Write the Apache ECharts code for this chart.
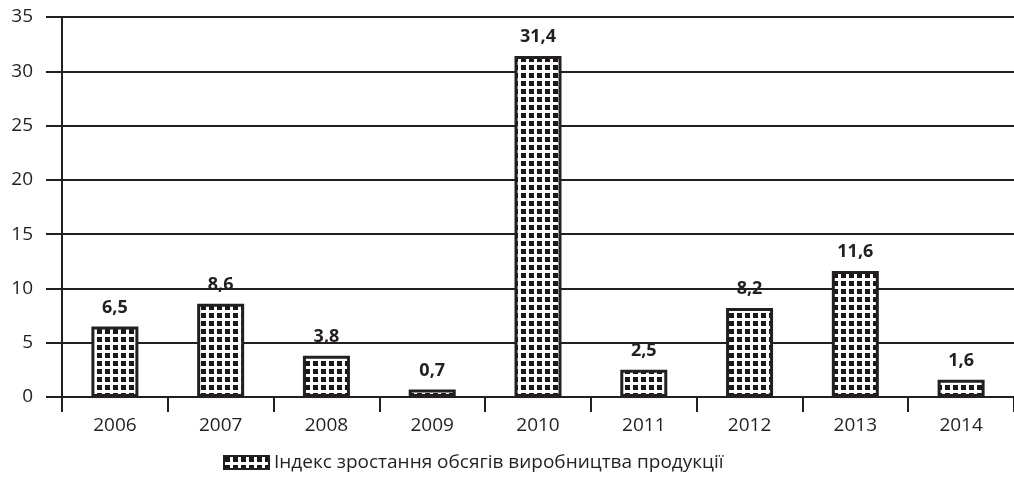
<!DOCTYPE html>
<html><head><meta charset="utf-8">
<script src="https://cdn.jsdelivr.net/npm/echarts@6/dist/echarts.min.js"></script>
<style>html,body{margin:0;padding:0;background:#fff}#c{width:1014px;height:478px}</style>
</head><body><div id="c"></div>
<script>
var years = ['2006','2007','2008','2009','2010','2011','2012','2013','2014'];
var values = [6.5, 8.6, 3.8, 0.7, 31.4, 2.5, 8.2, 11.6, 1.6];
var yTicks = [0, 5, 10, 15, 20, 25, 30, 35];
var seriesName = 'Індекс зростання обсягів виробництва продукції';

function makePattern() {
  var c = document.createElement('canvas');
  c.width = 8; c.height = 8;
  var g = c.getContext('2d');
  g.fillStyle = '#ffffff'; g.fillRect(0, 0, 8, 8);
  g.fillStyle = '#1a1718'; g.fillRect(1, 1, 5, 5);
  return c;
}
var pat = makePattern();
var ink = '#231f20';
var font = '"Open Sans", sans-serif';

var chart = echarts.init(document.getElementById('c'), null, {renderer: 'canvas'});
chart.setOption({
  animation: false,
  backgroundColor: '#fff',
  grid: {left: 62, right: 0, top: 17, bottom: 81, containLabel: false},
  legend: {
    show: true, left: 218, top: 448,
    icon: 'rect', itemWidth: 45, itemHeight: 13, itemGap: 10,
    textStyle: {fontFamily: font, fontSize: 19, color: ink},
    data: [{name: seriesName, itemStyle: {color: {image: pat, repeat: 'repeat'}, borderColor: ink, borderWidth: 2}}]
  },
  xAxis: {
    type: 'category', data: years,
    axisLine: {lineStyle: {color: ink, width: 2}},
    axisTick: {show: true, alignWithLabel: false, length: 15, lineStyle: {color: ink, width: 2}},
    axisLabel: {fontFamily: font, fontSize: 19, color: ink, margin: 19}
  },
  yAxis: {
    type: 'value', min: yTicks[0], max: yTicks[yTicks.length - 1], interval: 5,
    axisLine: {show: true, lineStyle: {color: ink, width: 2}},
    axisTick: {show: true, length: 16, lineStyle: {color: ink, width: 2}},
    splitLine: {show: true, lineStyle: {color: ink, width: 2}},
    axisLabel: {fontFamily: font, fontSize: 19, color: ink, margin: 29}
  },
  series: [{
    name: seriesName, type: 'bar', data: values, barWidth: 47,
    itemStyle: {color: {image: pat, repeat: 'repeat'}, borderColor: ink, borderWidth: 3},
    label: {
      show: true, position: 'top', distance: 10,
      fontFamily: font, fontSize: 18, fontWeight: 'bold', color: ink,
      formatter: function (p) { return String(p.value).replace('.', ','); }
    }
  }]
});
</script></body></html>
